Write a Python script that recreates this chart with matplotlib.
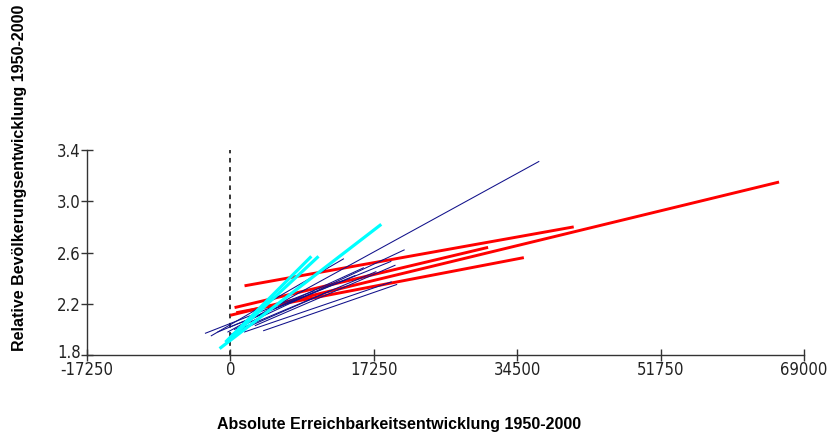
import matplotlib
matplotlib.use("Agg")
import matplotlib.pyplot as plt
import matplotlib.transforms as mtransforms

# x ticks / y ticks
x_ticks = [-17250, 0, 17250, 34500, 51750, 69000]
y_ticks = [1.8, 2.2, 2.6, 3.0, 3.4]
y_tick_labels = ["1.8", "2.2", "2.6", "3.0", "3.4"]

# red series (start/end of each regression line)
red_x0 = [0, 1700, 500, 700]
red_y0 = [2.11, 2.34, 2.17, 2.13]
red_x1 = [66000, 41300, 31000, 35300]
red_y1 = [3.15, 2.80, 2.64, 2.56]

# navy series
navy_x0 = [-300, 500, -2300, 0, 1000, -1500, 1700, 0, -3000, 1500, 3000, 4000]
navy_y0 = [1.98, 2.00, 1.95, 2.02, 2.00, 1.98, 1.98, 1.96, 1.97, 2.05, 2.03, 1.99]
navy_x1 = [37100, 20900, 13600, 19300, 17500, 15000, 19350, 12000, 10000, 16000, 19800, 20000]
navy_y1 = [3.31, 2.62, 2.55, 2.53, 2.45, 2.42, 2.37, 2.30, 2.30, 2.48, 2.50, 2.35]

# cyan series
cyan_x0 = [-1300, -600, 0]
cyan_y0 = [1.85, 1.90, 1.93]
cyan_x1 = [18150, 9740, 10600]
cyan_y1 = [2.82, 2.57, 2.57]

W, H = 831, 441
fig = plt.figure(figsize=(W / 100, H / 100), dpi=100)
ax = fig.add_axes([87 / W, 1 - 355 / H, (804 - 87) / W, (355 - 150) / H])

for a, b, c, d in zip(red_x0, red_x1, red_y0, red_y1):
    ax.plot([a, b], [c, d], color="#ff0000", lw=2.1, solid_capstyle="butt", zorder=2)
for a, b, c, d in zip(navy_x0, navy_x1, navy_y0, navy_y1):
    ax.plot([a, b], [c, d], color="#10108a", lw=0.75, zorder=3)
for a, b, c, d in zip(cyan_x0, cyan_x1, cyan_y0, cyan_y1):
    ax.plot([a, b], [c, d], color="#00ffff", lw=2.3, solid_capstyle="butt", zorder=4)

ax.plot([0, 0], [1.8, 3.4], color="black", lw=1.1, ls=(0, (3, 3)), zorder=1)

ax.set_xlim(-17250, 69000)
ax.set_ylim(1.8, 3.4)
ax.set_xticks(x_ticks)
ax.set_xticklabels([str(t) for t in x_ticks])
ax.set_yticks(y_ticks)
ax.set_yticklabels(y_tick_labels)
for s in ["top", "right"]:
    ax.spines[s].set_visible(False)
for s in ["left", "bottom"]:
    ax.spines[s].set_color("#333333")
    ax.spines[s].set_linewidth(1.0)
ax.tick_params(direction="inout", length=9, width=1.0, color="#333333", pad=0)
for lab in ax.get_xticklabels() + ax.get_yticklabels():
    lab.set_fontfamily(["DejaVu Sans"])
    lab.set_fontstretch("condensed")
    lab.set_fontsize(12)
    lab.set_color("#222222")

# lift the lowest y label a little so it does not collide with "-17250"
ylabs = ax.get_yticklabels()
ylabs[0].set_transform(ylabs[0].get_transform() +
                       mtransforms.ScaledTranslation(0, 4 / 100, fig.dpi_scale_trans))

fig.text(399 / W, 1 - 425 / H, "Absolute Erreichbarkeitsentwicklung 1950-2000",
         ha="center", va="center", fontsize=11.5, fontweight="bold",
         family=["Liberation Sans", "DejaVu Sans"])
fig.text(20 / W, 1 - 178 / H, "Relative Bevölkerungsentwicklung 1950-2000",
         ha="center", va="center", rotation=90, fontsize=11.5, fontweight="bold",
         family=["Liberation Sans", "DejaVu Sans"])

fig.savefig("out.png", dpi=100)
